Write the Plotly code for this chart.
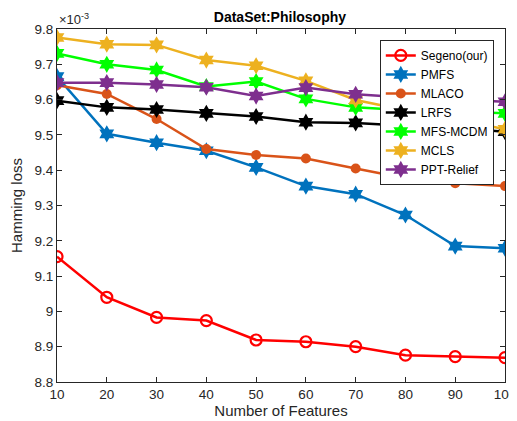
import plotly.graph_objects as go

features = [10, 20, 30, 40, 50, 60, 70, 80, 90, 100]

segeno = [9.155, 9.040, 8.983, 8.974, 8.919, 8.914, 8.900, 8.876, 8.872, 8.869]
pmfs = [9.665, 9.503, 9.478, 9.455, 9.408, 9.355, 9.332, 9.273, 9.185, 9.179]
mlaco = [9.641, 9.616, 9.545, 9.460, 9.443, 9.433, 9.405, 9.377, 9.363, 9.355]
lrfs = [9.597, 9.578, 9.572, 9.561, 9.552, 9.536, 9.534, 9.526, 9.520, 9.509]
mfs_mcdm = [9.731, 9.700, 9.684, 9.637, 9.651, 9.602, 9.578, 9.570, 9.566, 9.561]
mcls = [9.776, 9.757, 9.755, 9.712, 9.696, 9.653, 9.599, 9.570, 9.545, 9.516]
ppt_relief = [9.648, 9.648, 9.643, 9.635, 9.610, 9.634, 9.615, 9.606, 9.600, 9.594]

y_ticks = [8.8, 8.9, 9.0, 9.1, 9.2, 9.3, 9.4, 9.5, 9.6, 9.7, 9.8]
y_ticktext = ["8.8", "8.9", "9", "9.1", "9.2", "9.3", "9.4", "9.5", "9.6", "9.7", "9.8"]
x_ticks = [10, 20, 30, 40, 50, 60, 70, 80, 90, 100]

series = [
    ("Segeno(our)", segeno, "#FF0000", "circle-open", 11),
    ("PMFS", pmfs, "#0072BD", "hexagram", 13),
    ("MLACO", mlaco, "#D95319", "circle", 10),
    ("LRFS", lrfs, "#000000", "hexagram", 13),
    ("MFS-MCDM", mfs_mcdm, "#00FF00", "hexagram", 13),
    ("MCLS", mcls, "#EDB120", "hexagram", 13),
    ("PPT-Relief", ppt_relief, "#7E2F8E", "hexagram", 13),
]

fig = go.Figure()
for name, vals, color, sym, size in series:
    fig.add_trace(go.Scatter(
        x=features, y=vals, name=name, mode="lines+markers",
        line=dict(color=color, width=2.5),
        marker=dict(symbol=sym, size=size, color=color,
                    line=dict(color=color, width=2.2 if sym == "circle-open" else 0)),
    ))

axis_common = dict(
    showline=True, linecolor="#262626", linewidth=1, mirror="ticks",
    ticks="inside", ticklen=5, tickcolor="#262626", showgrid=False, zeroline=False,
    automargin=False,
    tickfont=dict(family="Liberation Sans, Arial, sans-serif", size=13.5, color="#262626"),
)

# the page body adds an 8px offset, so margins are shifted to compensate
fig.update_layout(
    width=517, height=421,
    margin=dict(l=49, r=20, t=21, b=47),
    paper_bgcolor="white", plot_bgcolor="white",
    font=dict(family="Liberation Sans, Arial, sans-serif", color="#262626"),
    title=dict(text="<b>DataSet:Philosophy</b>", x=0.526, xanchor="center",
               y=0.9795, yanchor="middle", font=dict(size=14, color="#000000")),
    xaxis=dict(range=[10, 100], tickvals=x_ticks, ticklabeloverflow="allow",
               title=dict(text="Number of Features", standoff=3, font=dict(size=15)),
               **axis_common),
    yaxis=dict(range=[8.8, 9.8], tickvals=y_ticks, ticktext=y_ticktext,
               title=dict(text="Hamming loss", standoff=14, font=dict(size=15)),
               **axis_common),
    legend=dict(x=0.975, y=0.969, xanchor="right", yanchor="top",
                bordercolor="#262626", borderwidth=1, bgcolor="white",
                font=dict(size=12, color="#000000"), tracegroupgap=0,
                itemwidth=30),
    showlegend=True,
    annotations=[dict(text="×10<sup>-3</sup>", xref="paper", yref="paper",
                      x=0.0, y=1.0, xanchor="left", yanchor="bottom", showarrow=False,
                      font=dict(size=13, color="#262626"))],
)

fig.write_html("out.html")
